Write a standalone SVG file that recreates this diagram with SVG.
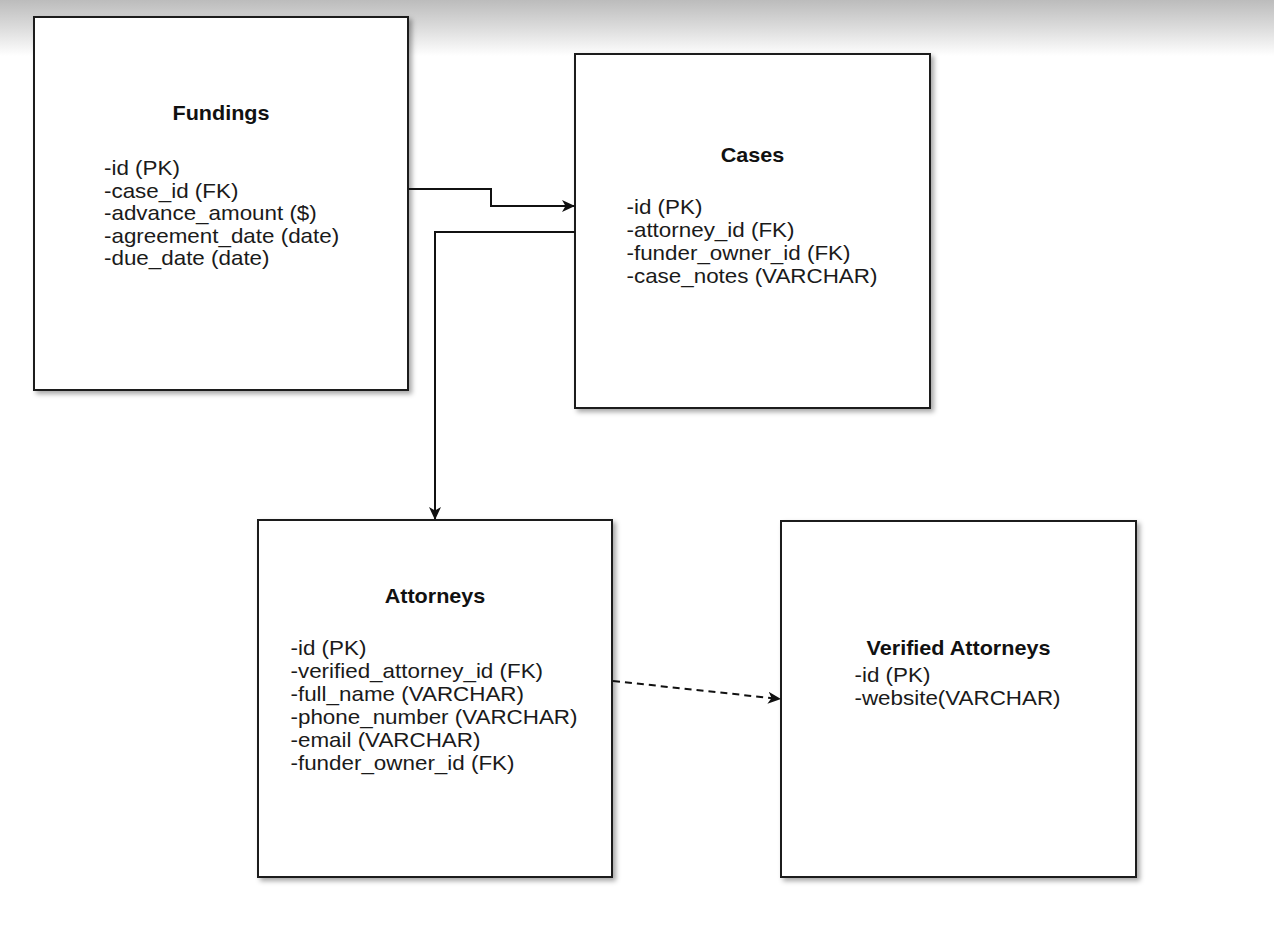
<svg xmlns="http://www.w3.org/2000/svg" width="1274" height="942" viewBox="0 0 1274 942">
<defs>
<linearGradient id="topfade" x1="0" y1="0" x2="0" y2="1">
<stop offset="0" stop-color="#bcbcbc"/>
<stop offset="0.5" stop-color="#dcdcdc"/>
<stop offset="1" stop-color="#ffffff"/>
</linearGradient>
<filter id="shadow" x="-10%" y="-10%" width="125%" height="125%">
<feDropShadow dx="3" dy="3" stdDeviation="2.5" flood-color="#000" flood-opacity="0.35"/>
</filter>
<marker id="arrow" viewBox="0 0 13 12" refX="12" refY="6" markerWidth="13" markerHeight="12" markerUnits="userSpaceOnUse" orient="auto">
<path d="M0,0 L13,6 L0,12 L3.5,6 Z" fill="#111"/>
</marker>
</defs>
<style>
.box{fill:#fff;stroke:#1a1a1a;stroke-width:2;filter:url(#shadow)}
.title{font-family:"Liberation Sans",Arial,sans-serif;font-weight:bold;font-size:20px;fill:#111;text-anchor:middle}
.body{font-family:"Liberation Sans",Arial,sans-serif;font-size:20px;fill:#1a1a1a}
.conn{fill:none;stroke:#111;stroke-width:2}
.dash{stroke-dasharray:7 5}
</style>
<rect x="0" y="0" width="1274" height="942" fill="#fff"/>
<rect x="0" y="0" width="1274" height="56" fill="url(#topfade)"/>

<g id="fundings">
<rect class="box" x="34" y="17" width="374" height="373"/>
<g transform="translate(221,0) scale(1.08,1)"><text class="title" x="0" y="120">Fundings</text></g>
<g transform="translate(104,0) scale(1.12,1)">
<text class="body" x="0" y="175">-id (PK)</text>
<text class="body" x="0" y="198">-case_id (FK)</text>
<text class="body" x="0" y="220">-advance_amount ($)</text>
<text class="body" x="0" y="243">-agreement_date (date)</text>
<text class="body" x="0" y="265">-due_date (date)</text>
</g>
</g>

<g id="cases">
<rect class="box" x="575" y="54" width="355" height="354"/>
<g transform="translate(752.5,0) scale(1.08,1)"><text class="title" x="0" y="162">Cases</text></g>
<g transform="translate(626.5,0) scale(1.12,1)">
<text class="body" x="0" y="214">-id (PK)</text>
<text class="body" x="0" y="237">-attorney_id (FK)</text>
<text class="body" x="0" y="260">-funder_owner_id (FK)</text>
<text class="body" x="0" y="283">-case_notes (VARCHAR)</text>
</g>
</g>

<g id="attorneys">
<rect class="box" x="258" y="520" width="354" height="357"/>
<g transform="translate(435,0) scale(1.08,1)"><text class="title" x="0" y="603">Attorneys</text></g>
<g transform="translate(290.5,0) scale(1.12,1)">
<text class="body" x="0" y="655">-id (PK)</text>
<text class="body" x="0" y="678">-verified_attorney_id (FK)</text>
<text class="body" x="0" y="701">-full_name (VARCHAR)</text>
<text class="body" x="0" y="724">-phone_number (VARCHAR)</text>
<text class="body" x="0" y="747">-email (VARCHAR)</text>
<text class="body" x="0" y="770">-funder_owner_id (FK)</text>
</g>
</g>

<g id="verified-attorneys">
<rect class="box" x="781" y="521" width="355" height="356"/>
<g transform="translate(958.5,0) scale(1.08,1)"><text class="title" x="0" y="655">Verified Attorneys</text></g>
<g transform="translate(854.5,0) scale(1.12,1)">
<text class="body" x="0" y="682">-id (PK)</text>
<text class="body" x="0" y="705">-website(VARCHAR)</text>
</g>
</g>

<g id="connectors">
<path class="conn" d="M409,189 H491 V206 H574" marker-end="url(#arrow)"/>
<path class="conn" d="M575,232 H435 V519" marker-end="url(#arrow)"/>
<path class="conn dash" d="M613,681 L780,699" marker-end="url(#arrow)"/>
</g>
</svg>
